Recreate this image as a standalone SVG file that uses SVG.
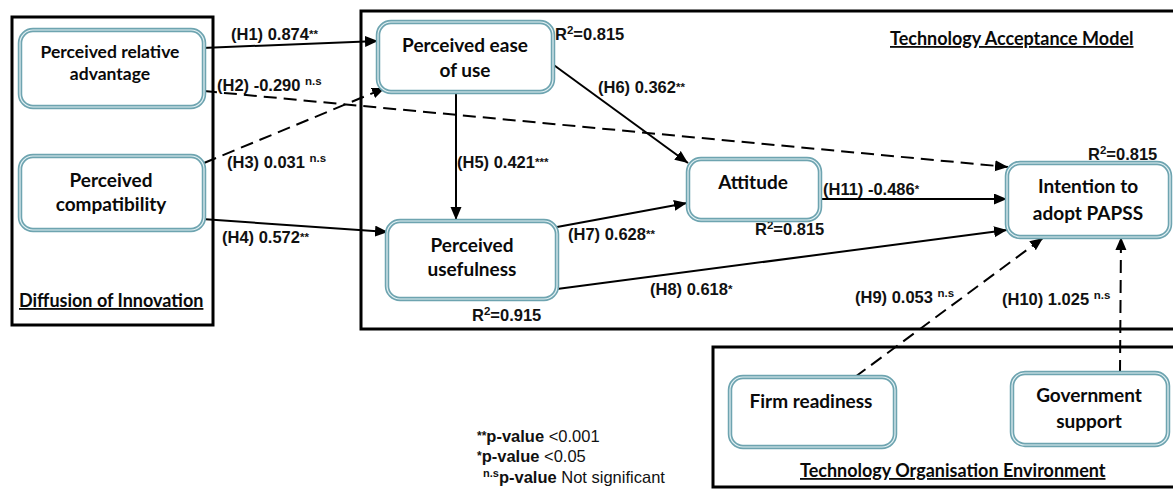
<svg xmlns="http://www.w3.org/2000/svg" width="1173" height="489" viewBox="0 0 1173 489">
<style>
.frame{fill:none;stroke:#000;stroke-width:3}
.nodeo{fill:#fff;stroke:#6ea4b0;stroke-width:4.5}
.nodei{fill:none;stroke:#e3f1f4;stroke-width:1.2}
.nt{font-family:Lato,"Liberation Sans",sans-serif;font-weight:bold;font-size:19px;fill:#0a0a0a;text-anchor:middle}
.nts{font-size:17.5px}
.tt{font-family:Lato,"Liberation Sans",sans-serif;font-weight:bold;font-size:18px;fill:#0a0a0a;text-decoration:underline}
.lb{font-family:"Liberation Sans",Arial,sans-serif;font-weight:bold;font-size:16.5px;fill:#111}
.sup{font-size:11.5px}
.ln{fill:none;stroke:#000;stroke-width:2}
.dash{stroke-dasharray:13 7}
.lg{font-family:"Liberation Sans",Arial,sans-serif;font-size:16.5px;fill:#111}
</style>
<defs>
<marker id="ah" markerUnits="userSpaceOnUse" markerWidth="14" markerHeight="12" refX="13" refY="5.5" orient="auto">
<path d="M0,0 L13,5.5 L0,11 z" fill="#000"/>
</marker>
</defs>
<rect width="1173" height="489" fill="#fff"/>

<g id="frames">
<rect class="frame" x="12" y="17" width="201" height="308"/>
<rect class="frame" x="361" y="11" width="830" height="318"/>
<rect class="frame" x="713" y="347" width="480" height="140"/>
<text class="tt" x="19" y="307">Diffusion of Innovation</text>
<text class="tt" x="890" y="45">Technology Acceptance Model</text>
<text class="tt" x="800" y="477">Technology Organisation Environment</text>
</g>

<g id="connectors">
<line class="ln" x1="202" y1="48" x2="378" y2="41" marker-end="url(#ah)"/>
<line class="ln dash" x1="204" y1="91" x2="1008" y2="167" marker-end="url(#ah)"/>
<line class="ln dash" x1="204" y1="163" x2="385" y2="88" marker-end="url(#ah)"/>
<line class="ln" x1="202" y1="219" x2="388" y2="232" marker-end="url(#ah)"/>
<line class="ln" x1="456" y1="92" x2="456" y2="220" marker-end="url(#ah)"/>
<line class="ln" x1="551" y1="63" x2="688" y2="163" marker-end="url(#ah)"/>
<line class="ln" x1="557" y1="227" x2="687" y2="203" marker-end="url(#ah)"/>
<line class="ln" x1="557" y1="289" x2="1007" y2="230" marker-end="url(#ah)"/>
<line class="ln dash" x1="855" y1="377" x2="1043" y2="238" marker-end="url(#ah)"/>
<line class="ln dash" x1="1120" y1="373" x2="1121" y2="237" marker-end="url(#ah)"/>
<line class="ln" x1="818" y1="199" x2="1007" y2="199" marker-end="url(#ah)"/>
<text class="lb" x="231" y="40">(H1) 0.874<tspan class="sup" dy="-2">**</tspan></text>
<text class="lb" x="217" y="91">(H2) -0.290 <tspan class="sup" dy="-6">n.s</tspan></text>
<text class="lb" x="227" y="168">(H3) 0.031 <tspan class="sup" dy="-6">n.s</tspan></text>
<text class="lb" x="222" y="243">(H4) 0.572<tspan class="sup" dy="-2">**</tspan></text>
<text class="lb" x="457" y="168">(H5) 0.421<tspan class="sup" dy="-2">***</tspan></text>
<text class="lb" x="598" y="93">(H6) 0.362<tspan class="sup" dy="-2">**</tspan></text>
<text class="lb" x="568" y="240">(H7) 0.628<tspan class="sup" dy="-2">**</tspan></text>
<text class="lb" x="650" y="295">(H8) 0.618<tspan class="sup" dy="-2">*</tspan></text>
<text class="lb" x="855" y="303">(H9) 0.053 <tspan class="sup" dy="-6">n.s</tspan></text>
<text class="lb" x="1002" y="305">(H10) 1.025 <tspan class="sup" dy="-6">n.s</tspan></text>
<text class="lb" x="823" y="195">(H11) -0.486<tspan class="sup" dy="-2">*</tspan></text>
<text class="lb" x="555" y="40">R<tspan class="sup" dy="-6">2</tspan><tspan dy="6">=0.815</tspan></text>
<text class="lb" x="472" y="321">R<tspan class="sup" dy="-6">2</tspan><tspan dy="6">=0.915</tspan></text>
<text class="lb" x="755" y="235">R<tspan class="sup" dy="-6">2</tspan><tspan dy="6">=0.815</tspan></text>
<text class="lb" x="1088" y="160">R<tspan class="sup" dy="-6">2</tspan><tspan dy="6">=0.815</tspan></text>
</g>

<g id="n-pra">
<rect class="nodeo" x="20" y="30" width="184" height="77" rx="13"/>
<rect class="nodei" x="20" y="30" width="184" height="77" rx="13"/>
<text class="nt nts" x="110" y="58">Perceived relative</text>
<text class="nt nts" x="110" y="80">advantage</text>
</g>
<g id="n-pc">
<rect class="nodeo" x="20" y="156" width="184" height="74" rx="13"/>
<rect class="nodei" x="20" y="156" width="184" height="74" rx="13"/>
<text class="nt" x="111" y="187">Perceived</text>
<text class="nt" x="111" y="211">compatibility</text>
</g>
<g id="n-peu">
<rect class="nodeo" x="378" y="22" width="175" height="70" rx="13"/>
<rect class="nodei" x="378" y="22" width="175" height="70" rx="13"/>
<text class="nt" x="465" y="52">Perceived ease</text>
<text class="nt" x="465" y="77">of use</text>
</g>
<g id="n-pu">
<rect class="nodeo" x="387" y="221" width="170" height="78" rx="13"/>
<rect class="nodei" x="387" y="221" width="170" height="78" rx="13"/>
<text class="nt" x="472" y="252">Perceived</text>
<text class="nt" x="472" y="276">usefulness</text>
</g>
<g id="n-att">
<rect class="nodeo" x="688" y="159" width="132" height="61" rx="13"/>
<rect class="nodei" x="688" y="159" width="132" height="61" rx="13"/>
<text class="nt" x="753" y="189">Attitude</text>
</g>
<g id="n-int">
<rect class="nodeo" x="1007" y="163" width="163" height="74" rx="13"/>
<rect class="nodei" x="1007" y="163" width="163" height="74" rx="13"/>
<text class="nt" x="1088" y="193">Intention to</text>
<text class="nt" x="1088" y="220">adopt PAPSS</text>
</g>
<g id="n-firm">
<rect class="nodeo" x="730" y="377" width="165" height="70" rx="13"/>
<rect class="nodei" x="730" y="377" width="165" height="70" rx="13"/>
<text class="nt" x="811" y="408">Firm readiness</text>
</g>
<g id="n-gov">
<rect class="nodeo" x="1012" y="373" width="156" height="72" rx="13"/>
<rect class="nodei" x="1012" y="373" width="156" height="72" rx="13"/>
<text class="nt" x="1089" y="402">Government</text>
<text class="nt" x="1089" y="428">support</text>
</g>

<g id="legend">
<text class="lg" x="477" y="442"><tspan font-weight="bold" font-size="12" dy="-2">**</tspan><tspan font-weight="bold" dy="2">p-value</tspan> &lt;0.001</text>
<text class="lg" x="477" y="462"><tspan font-weight="bold" font-size="12" dy="-2">*</tspan><tspan font-weight="bold" dy="2">p-value</tspan> &lt;0.05</text>
<text class="lg" x="483" y="483"><tspan font-weight="bold" font-size="11" dy="-6">n.s</tspan><tspan font-weight="bold" dy="6">p-value</tspan> Not significant</text>
</g>
</svg>
